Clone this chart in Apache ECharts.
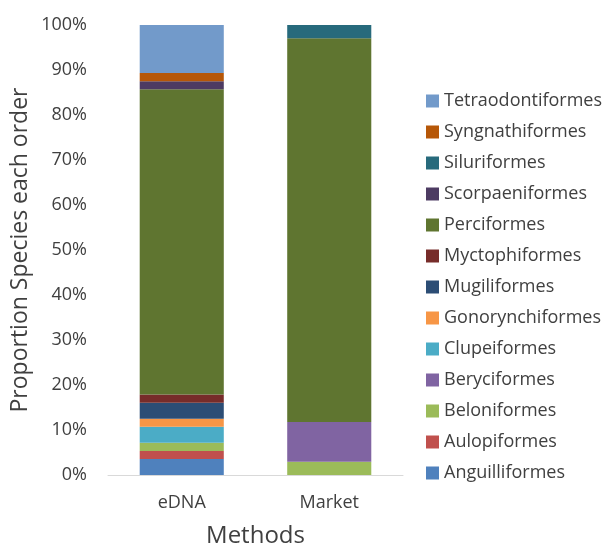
<!DOCTYPE html>
<html>
<head>
<meta charset="utf-8">
<script src="https://cdn.jsdelivr.net/npm/echarts@6/dist/echarts.min.js"></script>
<style>
  html, body { margin: 0; padding: 0; background: #fff; }
  #chart { width: 608px; height: 547px; }
</style>
</head>
<body>
<div id="chart"></div>
<script>
// Sampling methods on the x axis
const methods = ['eDNA', 'Market'];

// Fish orders, bottom of the stack first
const orders = [
  'Anguilliformes', 'Aulopiformes', 'Beloniformes', 'Beryciformes',
  'Clupeiformes', 'Gonorynchiformes', 'Mugiliformes', 'Myctophiformes',
  'Perciformes', 'Scorpaeniformes', 'Siluriformes', 'Syngnathiformes',
  'Tetraodontiformes'
];

// Share of species (%) per order, one value per method [eDNA, Market]
const anguilliformes    = [3.57, 0];
const aulopiformes      = [1.79, 0];
const beloniformes      = [1.79, 2.94];
const beryciformes      = [0, 8.82];
const clupeiformes      = [3.57, 0];
const gonorynchiformes  = [1.79, 0];
const mugiliformes      = [3.57, 0];
const myctophiformes    = [1.79, 0];
const perciformes       = [67.86, 85.30];
const scorpaeniformes   = [1.79, 0];
const siluriformes      = [0, 2.94];
const syngnathiformes   = [1.79, 0];
const tetraodontiformes = [10.69, 0];

const seriesValues = [
  anguilliformes, aulopiformes, beloniformes, beryciformes, clupeiformes,
  gonorynchiformes, mugiliformes, myctophiformes, perciformes,
  scorpaeniformes, siluriformes, syngnathiformes, tetraodontiformes
];

const palette = [
  '#4F81BD', '#C0504D', '#9BBB59', '#8064A2', '#4BACC6', '#F79646',
  '#2C4D75', '#772C2A', '#5F7530', '#4D3B62', '#276A7C', '#B65708',
  '#729ACA'
];

const FONT = '"Open Sans", "Noto Sans", sans-serif';

const chart = echarts.init(document.getElementById('chart'), null, { renderer: 'canvas' });

chart.setOption({
  animation: false,
  color: palette,
  textStyle: { fontFamily: FONT },
  grid: { left: 108, right: 205, top: 25, bottom: 72, containLabel: false, outerBoundsMode: 'none' },
  legend: {
    orient: 'vertical',
    left: 421,
    top: 87,
    itemWidth: 13,
    itemHeight: 13,
    itemGap: 13,
    icon: 'rect',
    data: orders.slice().reverse(),
    textStyle: { fontFamily: FONT, fontSize: 18, color: '#404040' }
  },
  xAxis: {
    type: 'category',
    data: methods,
    name: 'Methods',
    nameLocation: 'middle',
    nameGap: 49,
    nameTextStyle: { fontFamily: FONT, fontSize: 24, color: '#404040' },
    axisLine: { lineStyle: { color: '#D9D9D9', width: 1 } },
    axisTick: { show: false },
    axisLabel: { fontFamily: FONT, fontSize: 18, color: '#404040', margin: 19 }
  },
  yAxis: {
    type: 'value',
    min: 0,
    max: 100,
    interval: 10,
    name: 'Proportion Species each order',
    nameLocation: 'middle',
    nameGap: 76,
    nameTextStyle: { fontFamily: FONT, fontSize: 23, color: '#404040' },
    axisLine: { show: false },
    axisTick: { show: false },
    splitLine: { show: false },
    axisLabel: { fontFamily: FONT, fontSize: 18, color: '#404040', margin: 21, formatter: '{value}%' }
  },
  series: orders.map((name, i) => ({
    name: name,
    type: 'bar',
    stack: 'total',
    barWidth: '57%',
    data: seriesValues[i]
  }))
});
</script>
</body>
</html>
